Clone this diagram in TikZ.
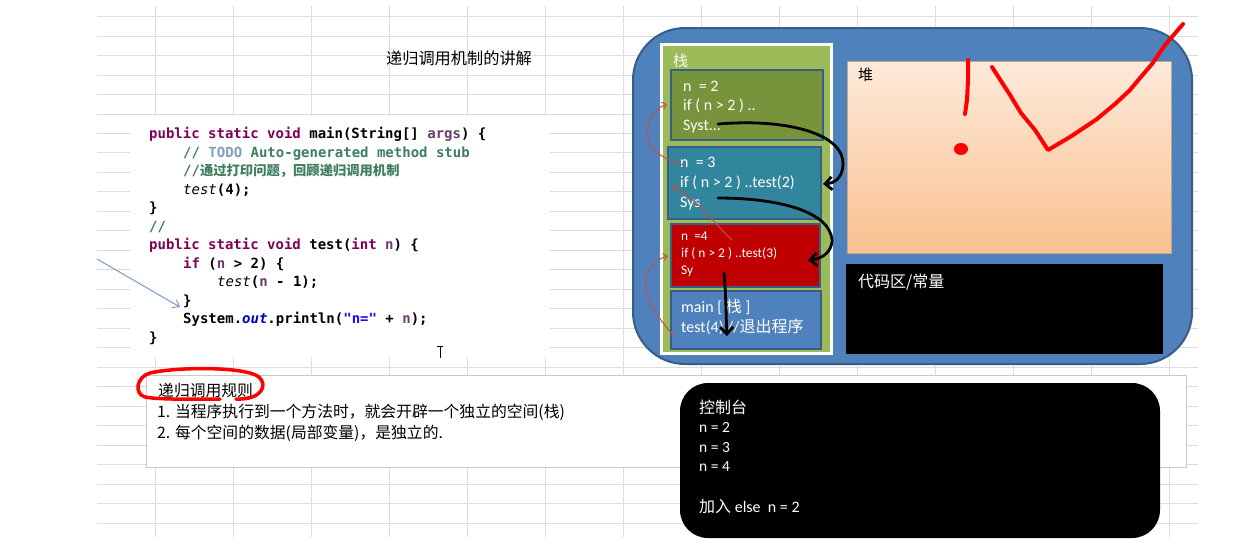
\documentclass[tikz,border=0pt]{standalone}
\usepackage{fontspec}
\setmainfont{Carlito}
\newfontfamily\cjk{Noto Sans CJK SC}
\newfontfamily\mono{DejaVu Sans Mono}
\usetikzlibrary{arrows.meta}
\definecolor{gridc}{HTML}{DCDCDC}
\definecolor{kw}{HTML}{7F0055}
\definecolor{var}{HTML}{6A3E6E}
\definecolor{cmt}{HTML}{3F7F5F}
\definecolor{todo}{HTML}{7F9FBF}
\definecolor{fld}{HTML}{0000C0}
\definecolor{str}{HTML}{2A00FF}
\definecolor{boxblue}{HTML}{4F81BD}
\definecolor{boxedge}{HTML}{385D8A}
\definecolor{stackgreen}{HTML}{9BBB59}
\definecolor{fgreen}{HTML}{77933C}
\definecolor{fteal}{HTML}{31859C}
\definecolor{fred}{HTML}{C00000}
\definecolor{heaptop}{HTML}{FDEADA}
\definecolor{heapbot}{HTML}{FAC08F}
\definecolor{heapedge}{HTML}{BFA78C}
\definecolor{thinred}{HTML}{C0504D}
\definecolor{penred}{HTML}{FF0000}
\definecolor{arrowblue}{HTML}{7094C8}
\begin{document}
\begin{tikzpicture}[x=1pt,y=-1pt,
  gridline/.style={draw=gridc,line width=0.8pt},
  codeline/.style={anchor=base west,inner sep=0pt,font=\mono\bfseries\fontsize{14pt}{16pt}\selectfont},
  frametext/.style={anchor=base west,inner sep=0pt,text=white,font=\fontsize{16pt}{18pt}\selectfont},
  smalltext/.style={anchor=base west,inner sep=0pt,text=white,font=\fontsize{13.4pt}{15pt}\selectfont},
  cjktext/.style={anchor=base west,inner sep=0pt,font=\cjk\fontsize{15.8pt}{18pt}\selectfont},
  frame/.style={draw=boxedge,line width=2.5pt},
  handarrow/.style={draw=black,line width=2.8pt,line cap=round,-{Straight Barb[length=7pt,width=13pt,line width=2.8pt]}},
  thinarrow/.style={draw=thinred,line width=1pt,-{Straight Barb[length=4pt,width=7pt]}},
  pen/.style={draw=penred,line width=4pt,line cap=round,line join=round}]
\useasboundingbox (0,0) rectangle (1234,550);
\fill[white] (0,0) rectangle (1234,550);
% grid
\foreach \k in {0,...,26} \draw[gridline] (97,{16.5+19.48*\k}) -- (1198,{16.5+19.48*\k});
\foreach \k in {0,...,13} \draw[gridline] ({155+78*\k},6) -- ({155+78*\k},537);
% title
\node[anchor=center,font=\cjk\fontsize{16.2pt}{18pt}\selectfont,inner sep=0pt] (title) at (459,58) {递归调用机制的讲解};
% code box
\fill[white] (130,116) rectangle (550,357);
\node[codeline] (c0) at (149,138) {{\color{kw}public static void} main(String[] {\color{var}args}) \{};
\node[codeline] (c1) at (183,157) {{\color{cmt}//} {\color{todo}TODO} {\color{cmt}Auto-generated method stub}};
\node[codeline,text=cmt] (c2) at (183,175) {//{\cjk\fontsize{13.3pt}{14pt}\selectfont 通过打印问题，回顾递归调用机制}};
\node[codeline] (c3) at (183,194) {{\mdseries\itshape test}(4);};
\node[codeline] (c4) at (149,212) {\}};
\node[codeline,text=cmt] (c5) at (149,231) {//};
\node[codeline] (c6) at (149,249) {{\color{kw}public static void} test({\color{kw}int} {\color{var}n}) \{};
\node[codeline] (c7) at (183,268) {{\color{kw}if} ({\color{var}n} > 2) \{};
\node[codeline] (c8) at (217,286) {{\mdseries\itshape test}({\color{var}n} - 1);};
\node[codeline] (c9) at (183,305) {\}};
\node[codeline] (c10) at (183,323) {System.{\color{fld}\itshape out}.println({\color{str}"n="} + {\color{var}n});};
\node[codeline] (c11) at (149,342) {\}};
% text cursor
\draw[black,line width=0.7pt] (437,346) -- (443,346) (440,346) -- (440,358);
% blue arrow
\coordinate (bs) at (97,259);
\coordinate (be) at (180,307);
\draw[arrowblue,line width=0.9pt,-{Straight Barb[length=6pt,width=9pt]}] (bs) -- (be);
% rules box
\filldraw[fill=white,draw=gridc!80!gray,line width=0.8pt] (146,375) rectangle (1186,467);
\node[cjktext] (rt) at (158,396) {递归调用规则};
\node[cjktext] (r1) at (157,417) {1. 当程序执行到一个方法时，就会开辟一个独立的空间(栈)};
\node[cjktext] (r2) at (157,438) {2. 每个空间的数据(局部变量)，是独立的.};
\draw[pen,line width=3.5pt] (236,399) .. controls (262,400) and (268,385) .. (259,377)
  .. controls (245,366) and (175,367) .. (150,373)
  .. controls (136,377) and (134,394) .. (145,397)
  .. controls (160,400) and (200,399) .. (220,399);
% memory
\filldraw[fill=boxblue,draw=boxedge,line width=2pt,rounded corners=52pt] (633,28) rectangle (1192,364);
\filldraw[fill=stackgreen,draw=white,line width=3pt] (661,44) rectangle (831,353);
\node[anchor=base west,inner sep=0pt,text=white,font=\cjk\fontsize{15pt}{18pt}\selectfont] (stk) at (673,66) {栈};
% frames
\filldraw[frame,fill=fgreen] (671,70) rectangle (823,140);
\filldraw[frame,fill=fteal] (668,147) rectangle (821,219);
\filldraw[frame,fill=fred] (671,224) rectangle (820,287);
\filldraw[frame,fill=boxblue] (671,291) rectangle (821,349);
\node[frametext] (a1) at (683,91) {n~~= 2};
\node[frametext] (a2) at (683,110) {if ( n > 2 ) ..};
\node[frametext] (a3) at (683,130) {Syst...};
\node[frametext] (b1) at (680,167) {n~~= 3};
\node[frametext] (b2) at (680,187) {if ( n > 2 ) ..test(2)};
\node[frametext] (b3) at (680,207) {Sys};
\node[smalltext] (d1) at (681,240) {n~~=4};
\node[smalltext] (d2) at (681,257) {if ( n > 2 ) ..test(3)};
\node[smalltext] (d3) at (681,274) {Sy};
\node[frametext] (m1) at (681,312) {main [ {\cjk 栈} ]};
\node[frametext] (m2) at (681,332) {test(4) //{\cjk 退出程序}};
% heap
\shade[top color=heaptop,bottom color=heapbot] (847,61) rectangle (1171,253);
\draw[heapedge,line width=1pt] (847,61) rectangle (1171,253);
\node[anchor=base west,inner sep=0pt,font=\cjk\fontsize{15pt}{18pt}\selectfont] (heap) at (858,80) {堆};
% code area
\fill[black] (846,264) rectangle (1163,354);
\node[anchor=base west,inner sep=0pt,text=white,font=\cjk\fontsize{16pt}{18pt}\selectfont] (codearea) at (858,287) {代码区/常量};
% console
\fill[black,rounded corners=28pt] (680,383) rectangle (1160,538);
\node[anchor=base west,inner sep=0pt,text=white,font=\cjk\fontsize{16pt}{18pt}\selectfont] (con) at (699,413) {控制台};
\node[anchor=base west,inner sep=0pt,text=white,font=\fontsize{15.5pt}{16pt}\selectfont] (o1) at (699,432) {n = 2};
\node[anchor=base west,inner sep=0pt,text=white,font=\fontsize{15.5pt}{16pt}\selectfont] (o2) at (699,452) {n = 3};
\node[anchor=base west,inner sep=0pt,text=white,font=\fontsize{15.5pt}{16pt}\selectfont] (o3) at (699,471) {n = 4};
\node[anchor=base west,inner sep=0pt,text=white,font=\fontsize{16pt}{18pt}\selectfont] (o4) at (699,512) {{\cjk 加入} else~~n = 2};
% black hand-drawn arrows
\draw[handarrow] (718,124) .. controls (790,118) and (845,135) .. (843,165) .. controls (842,178) and (835,183) .. (823,184);
\draw[handarrow] (718,198) .. controls (780,198) and (830,212) .. (832,240) .. controls (832,252) and (822,259) .. (808,260);
\draw[handarrow] (724,273) .. controls (726,295) and (726,315) .. (727,336);
% thin red arcs
\draw[thinarrow] (684,165) .. controls (655,158) and (640,140) .. (650,120) .. controls (654,112) and (659,107) .. (667,104);
\draw[thinarrow] (732,240) .. controls (715,225) and (700,200) .. (672,186);
\draw[thinarrow] (674,336) .. controls (660,320) and (635,290) .. (650,268) .. controls (655,262) and (660,258) .. (668,256);
% red pen marks
\draw[pen] (968,60) -- (968,80) -- (967,100) -- (965,114);
\fill[penred] (961,149) ellipse (7pt and 6pt);
\draw[pen] (992,67) -- (1010,95) -- (1021,113) -- (1035,130) -- (1048,150) -- (1070,137) -- (1097,119) -- (1115,104) -- (1130,90) -- (1140,78) -- (1152,64) -- (1165,45) -- (1183,24);
\end{tikzpicture}
\end{document}
